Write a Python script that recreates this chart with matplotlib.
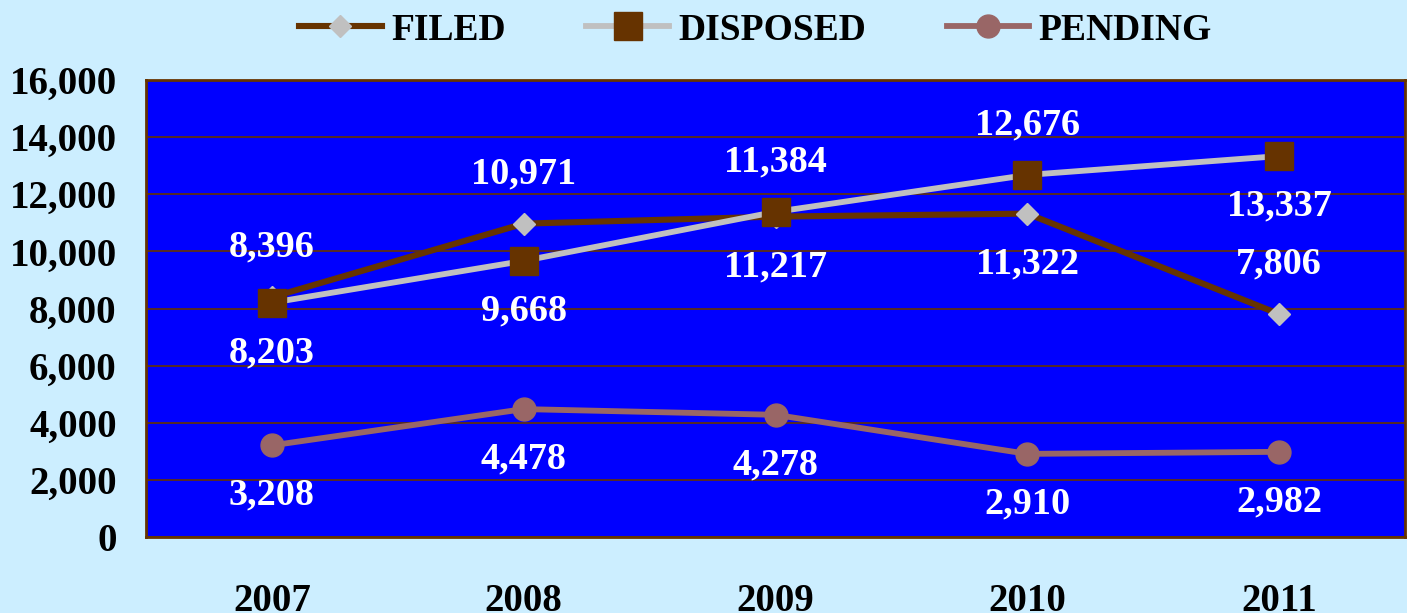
#Line chart of filed, disposed and pending cases 2007-2011
#blue plot area, white value labels, legend across the top

import matplotlib
matplotlib.use("Agg")
import matplotlib.pyplot as plt
from matplotlib.ticker import FuncFormatter

years = ["2007", "2008", "2009", "2010", "2011"]
filed = [8396, 10971, 11217, 11322, 7806]
disposed = [8203, 9668, 11384, 12676, 13337]
pending = [3208, 4478, 4278, 2910, 2982]

#label above (+1) or below (-1) each point
filed_side = [1, 1, -1, -1, 1]
disposed_side = [-1, -1, 1, 1, -1]
pending_side = [-1, -1, -1, -1, -1]

plt.rcParams['font.family'] = ['Liberation Serif', 'DejaVu Serif']
plt.rcParams['font.weight'] = 'bold'

bg = '#CCEEFF'
brown = '#663300'
grey = '#C0C0C0'
rose = '#996666'

fig = plt.figure(figsize=(14.07, 6.13), dpi=100, facecolor=bg)
ax = fig.add_axes([146/1407, 1-537/613, (1405-146)/1407, (537-80)/613])
ax.set_facecolor('#0000FF')

x = list(range(len(years)))

ax.plot(x, filed, color=brown, lw=4.4, marker='D', ms=11.5,
        mfc=grey, mec=grey, label='FILED', zorder=3)
ax.plot(x, disposed, color=grey, lw=4.2, marker='s', ms=20,
        mfc=brown, mec=brown, label='DISPOSED', zorder=4)
ax.plot(x, pending, color=rose, lw=4.2, marker='o', ms=16.5,
        mfc=rose, mec=rose, label='PENDING', zorder=5)

for series, side in [(filed, filed_side), (disposed, disposed_side), (pending, pending_side)]:
    for i, v in enumerate(series):
        ax.annotate(f"{v:,}", (x[i], v), xytext=(0, 36*side[i]),
                    textcoords='offset points', ha='center', va='center',
                    color='white', fontsize=27.5, fontweight='bold', zorder=6)

ax.set_xlim(-0.5, len(years)-0.5)
ax.set_ylim(0, 16000)
ax.set_yticks(range(0, 16001, 2000))
ax.yaxis.set_major_formatter(FuncFormatter(lambda v, p: f"{int(v):,}"))
ax.set_xticks(x)
ax.set_xticklabels(years)
ax.tick_params(axis='both', length=0, labelsize=28, labelcolor='black')
ax.tick_params(axis='x', pad=33)
ax.tick_params(axis='y', pad=21)
for lab in ax.get_xticklabels() + ax.get_yticklabels():
    lab.set_fontweight('bold')

ax.grid(axis='y', color=brown, lw=1.2, zorder=1)
ax.set_axisbelow(True)
for s in ax.spines.values():
    s.set_color(brown)
    s.set_linewidth(2)

fig.legend(loc='center', bbox_to_anchor=(0.537, 0.951), ncol=3, frameon=False,
           prop={'size': 27, 'weight': 'bold'}, handlelength=2.2,
           handletextpad=0.25, columnspacing=2.15, borderpad=0)

fig.savefig("out.png", dpi=100, facecolor=bg)
